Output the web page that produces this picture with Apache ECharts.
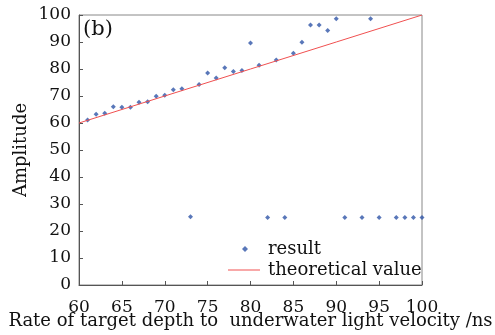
<!DOCTYPE html>
<html><head><meta charset="utf-8">
<script src="https://cdn.jsdelivr.net/npm/echarts@6/dist/echarts.min.js"></script>
<style>html,body{margin:0;padding:0;background:#fff}#c{width:495px;height:335px}</style>
</head><body><div id="c"></div>
<script>
var resultX = [61,62,63,64,65,66,67,68,69,70,71,72,73,74,75,76,77,78,79,80,81,82,83,84,85,86,87,88,89,90,91,93,94,95,97,98,99,100];
var resultY = [61.1,63.2,63.6,66.0,65.8,65.8,67.7,67.9,69.9,70.3,72.3,72.7,25.3,74.3,78.5,76.7,80.5,79.1,79.4,89.6,81.4,25,83.3,25,85.8,89.9,96.3,96.3,94.3,98.6,25,25,98.6,25,25,25,25,25];
var theoryX = [60,70,80,90,100];
var theoryY = [60,70,80,90,100];
var xTicks = [60,65,70,75,80,85,90,95,100];
var yTicks = [0,10,20,30,40,50,60,70,80,90,100];

var F = 'DejaVu Serif';
var chart = echarts.init(document.getElementById('c'));
chart.setOption({
  animation:false,
  grid:{left:79,right:73,top:15,bottom:50,show:true,borderColor:'#888',borderWidth:1,outerBoundsMode:'none',containLabel:false},
  xAxis:{type:'value',min:60,max:100,interval:5,
    axisLine:{lineStyle:{color:'#555'}},axisTick:{inside:true,length:4,lineStyle:{color:'#555'}},
    splitLine:{show:false},
    axisLabel:{color:'#111',fontFamily:F,fontSize:17,margin:14},
    name:'Rate of target depth to  underwater light velocity /ns',nameLocation:'middle',nameGap:27,nameMoveOverlap:false,
    nameTextStyle:{color:'#111',fontFamily:F,fontSize:18}},
  yAxis:{type:'value',min:0,max:100,interval:10,
    axisLine:{lineStyle:{color:'#555'}},axisTick:{inside:true,length:4,lineStyle:{color:'#555'}},
    splitLine:{show:false},
    axisLabel:{color:'#111',fontFamily:F,fontSize:17,margin:8},
    name:'Amplitude',nameLocation:'middle',nameGap:49,nameMoveOverlap:false,
    nameTextStyle:{color:'#111',fontFamily:F,fontSize:18}},
  legend:[
    {orient:'vertical',left:237,top:235,itemWidth:6,itemHeight:6,
      textStyle:{color:'#111',fontFamily:F,fontSize:18,padding:[0,0,0,15]},
      data:[{name:'result',icon:'diamond'}]},
    {orient:'vertical',left:223,top:256,itemWidth:32,itemHeight:1,
      textStyle:{color:'#111',fontFamily:F,fontSize:18,padding:[0,0,0,3]},
      data:[{name:'theoretical value',icon:'rect'}]}
  ],
  graphic:[{type:'text',left:83,top:19,style:{text:'(b)',fontFamily:F,fontSize:21,fill:'#111'}}],
  series:[
    {name:'result',type:'scatter',symbol:'diamond',symbolSize:5,itemStyle:{color:'#2f55a8'},
      data:resultX.map(function(x,i){return [x,resultY[i]];})},
    {name:'theoretical value',type:'line',symbol:'none',lineStyle:{color:'#f05050',width:1},itemStyle:{color:'#f05050'},
      data:theoryX.map(function(x,i){return [x,theoryY[i]];})}
  ]
});
</script></body></html>
